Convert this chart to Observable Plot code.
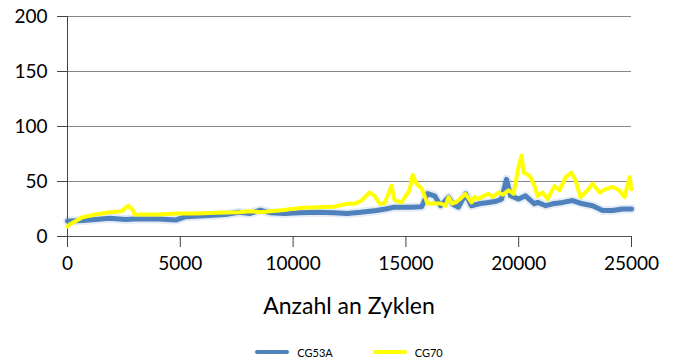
<!DOCTYPE html>
<html>
<head>
<meta charset="utf-8">
<script src="https://cdn.jsdelivr.net/npm/d3@7"></script>
<script src="https://cdn.jsdelivr.net/npm/@observablehq/plot@0.6"></script>
<style>
  html, body { margin: 0; padding: 0; background: #fff; }
  #wrap { width: 679px; height: 362px; font-family: Lato, "Open Sans", sans-serif; color: #000; }
  #title { height: 46px; line-height: 46px; padding-left: 19px; text-align: center; font-size: 23px; }
  #legend { margin-top: 14px; height: 20px; padding-left: 19px; display: flex; justify-content: center; align-items: center; font-size: 11px; }
  .item { display: flex; align-items: center; margin: 0 20px; }
  .sw { width: 34px; height: 4px; border-radius: 2px; margin-right: 8px; }
</style>
</head>
<body>
<div id="wrap">
  <div id="chart"></div>
  <div id="title">Anzahl an Zyklen</div>
  <div id="legend"></div>
</div>
<script>
const seriesNames = ["CG53A", "CG70"];
const seriesColors = ["#4F81BD", "#FFFF00"];

const cyclesCG53A = [0, 90, 665, 1240, 1860, 2570, 2970, 4030, 4800, 5250, 6250, 7000, 7600, 8100, 8550, 9000, 9600, 10300, 11100, 11800, 12400, 13000, 13700, 14100, 14500, 15200, 15700, 15960, 16270, 16540, 16890, 17100, 17330, 17650, 17900, 18300, 18660, 19000, 19240, 19460, 19640, 20000, 20300, 20700, 20840, 21200, 21500, 21950, 22390, 22830, 23275, 23720, 24160, 24600, 25000];
const valuesCG53A = [14, 14, 14.5, 15.5, 16.5, 15.5, 16, 16, 15, 18, 19, 20, 22, 21, 24, 21.5, 21, 21.5, 22, 21.5, 21, 22, 23.6, 25, 26.7, 26.7, 27, 39, 37, 28, 35.7, 29, 26.7, 38.8, 28, 30, 31, 32, 34, 52, 37, 34, 37, 29.7, 31, 28, 29.7, 31, 32.7, 29.7, 28, 23.6, 23.6, 25, 25];

const cyclesCG70 = [0, 90, 665, 1240, 1860, 2400, 2570, 2700, 2900, 2970, 3500, 4030, 4800, 5700, 6600, 7600, 8100, 8550, 9600, 10300, 11100, 11800, 12370, 12720, 13030, 13390, 13610, 13830, 14050, 14360, 14500, 14800, 15160, 15300, 15470, 15700, 15960, 16540, 16760, 16890, 17050, 17200, 17400, 17640, 17910, 18050, 18220, 18450, 18660, 18850, 19100, 19300, 19550, 19770, 19990, 20130, 20215, 20350, 20525, 20700, 20840, 21060, 21280, 21590, 21810, 22080, 22340, 22520, 22740, 23050, 23275, 23585, 23850, 24160, 24470, 24690, 24920, 25000];
const valuesCG70 = [9, 11, 17.5, 20, 22, 23, 26, 28, 24, 20, 20, 20, 21, 21, 21.5, 22, 23, 22, 24, 26, 26.7, 27, 29.7, 29.7, 32.7, 40, 37, 30, 30, 46, 33, 31, 42, 56, 48, 43.5, 30, 30, 28, 35.7, 30, 31, 34, 38.8, 31, 36, 34, 37, 38.8, 36, 40, 38, 42, 38.8, 63, 73.6, 58, 57, 54, 46, 37, 40, 34, 46, 42, 54, 58, 51, 35.7, 42, 48, 40, 43, 45, 42, 35.7, 54, 43];

const yTicks = [0, 50, 100, 150, 200];
const xTicks = [0, 5000, 10000, 15000, 20000, 25000];

const d53 = cyclesCG53A.map((c, i) => ({c, v: valuesCG53A[i]}));
const d70 = cyclesCG70.map((c, i) => ({c, v: valuesCG70[i]}));

const chart = Plot.plot({
  width: 679, height: 282,
  marginLeft: 67, marginRight: 48, marginTop: 16, marginBottom: 46,
  style: {fontFamily: "Lato, 'Open Sans', sans-serif", fontSize: "19px", color: "#000", background: "#fff"},
  x: {domain: [0, 25000]},
  y: {domain: [0, 200]},
  marks: [
    Plot.gridY(yTicks, {stroke: "#878787", strokeOpacity: 1}),
    Plot.ruleY([0], {stroke: "#555"}),
    Plot.ruleX([0], {stroke: "#444", insetBottom: -11}),
    Plot.axisY(yTicks, {tickSize: 10, tickPadding: 10, label: null, stroke: "#444", tickFormat: d => String(d)}),
    Plot.axisX(xTicks, {tickSize: 11, tickPadding: 9, label: null, stroke: "#444", tickFormat: d => String(d)}),
    Plot.line(d53, {x: "c", y: "v", stroke: seriesColors[0], strokeWidth: 9, strokeOpacity: 0.15}),
    Plot.line(d53, {x: "c", y: "v", stroke: seriesColors[0], strokeWidth: 5}),
    Plot.line(d70, {x: "c", y: "v", stroke: seriesColors[1], strokeWidth: 4})
  ]
});
document.getElementById("chart").appendChild(chart);

const legend = document.getElementById("legend");
seriesNames.forEach((n, i) => {
  const it = document.createElement("div");
  it.className = "item";
  const sw = document.createElement("div");
  sw.className = "sw";
  sw.style.background = seriesColors[i];
  const t = document.createElement("span");
  t.textContent = n;
  it.appendChild(sw); it.appendChild(t);
  legend.appendChild(it);
});
</script>
</body>
</html>
